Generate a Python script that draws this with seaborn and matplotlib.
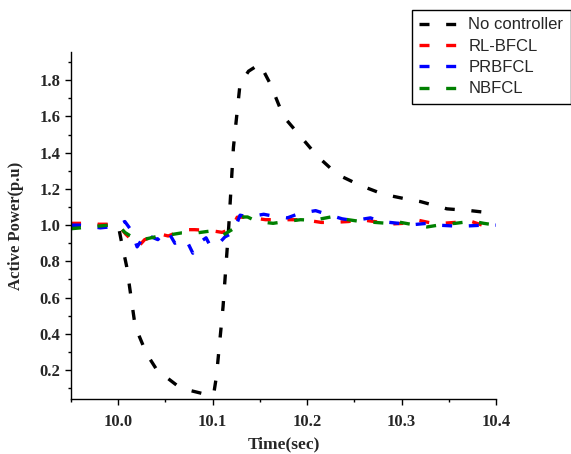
import matplotlib
matplotlib.use("Agg")
import matplotlib.pyplot as plt
import seaborn as sns
import numpy as np
import pandas as pd
from matplotlib.ticker import MultipleLocator

# ---- data ----
t_nc = [9.95, 9.97, 9.99, 10.0, 10.003, 10.009, 10.018, 10.03, 10.041, 10.066, 10.094, 10.101,
        10.104, 10.111, 10.117, 10.122, 10.129, 10.138, 10.15, 10.161, 10.175, 10.193, 10.211,
        10.232, 10.256, 10.281, 10.309, 10.32, 10.348, 10.373, 10.4]
p_nc = [1.0, 1.0, 1.0, 1.0, 0.92, 0.77, 0.44, 0.29, 0.20, 0.10, 0.064, 0.064,
        0.165, 0.55, 0.99, 1.43, 1.78, 1.85, 1.89, 1.78, 1.60, 1.49, 1.38,
        1.28, 1.22, 1.17, 1.14, 1.13, 1.09, 1.08, 1.064]

t_rl = [9.95, 9.96, 9.98, 9.99, 10.0, 10.008, 10.014, 10.021, 10.028, 10.045, 10.053, 10.069,
        10.081, 10.098, 10.11, 10.12, 10.126, 10.137, 10.156, 10.168, 10.185, 10.196, 10.215,
        10.227, 10.244, 10.257, 10.278, 10.285, 10.302, 10.315, 10.333, 10.343, 10.362, 10.373,
        10.391, 10.4]
p_rl = [1.01, 1.01, 1.005, 1.005, 1.0, 0.95, 0.92, 0.88, 0.92, 0.95, 0.94, 0.975,
        0.975, 0.97, 0.96, 0.98, 1.044, 1.044, 1.03, 1.03, 1.03, 1.03, 1.015,
        1.015, 1.02, 1.03, 1.015, 1.005, 1.01, 1.03, 1.01, 1.01, 1.017, 1.022,
        0.99, 0.99]

t_pr = [9.95, 9.96, 9.981, 9.991, 10.0, 10.007, 10.014, 10.02, 10.03, 10.035, 10.042, 10.05,
        10.055, 10.06, 10.067, 10.072, 10.079, 10.085, 10.093, 10.098, 10.105, 10.113, 10.122,
        10.129, 10.138, 10.154, 10.164, 10.179, 10.192, 10.209, 10.221, 10.237, 10.249, 10.267,
        10.278, 10.297, 10.307, 10.327, 10.338, 10.357, 10.368, 10.387, 10.4]
p_pr = [1.0, 1.0, 0.985, 0.99, 1.0, 1.02, 0.97, 0.88, 0.96, 0.935, 0.92, 0.97,
        0.945, 0.90, 0.92, 0.92, 0.845, 0.90, 0.93, 0.88, 0.89, 0.935, 0.96,
        1.055, 1.045, 1.06, 1.05, 1.04, 1.065, 1.08, 1.06, 1.035, 1.025, 1.04,
        1.02, 1.01, 1.0, 1.01, 1.0, 0.995, 0.995, 1.0, 1.0]

t_nb = [9.95, 9.96, 9.98, 9.99, 10.0, 10.007, 10.016, 10.026, 10.039, 10.053, 10.067, 10.083,
        10.097, 10.105, 10.111, 10.122, 10.13, 10.137, 10.147, 10.164, 10.177, 10.193, 10.207,
        10.225, 10.237, 10.254, 10.267, 10.285, 10.297, 10.315, 10.327, 10.345, 10.357, 10.375,
        10.387, 10.4]
p_nb = [0.98, 0.985, 0.995, 1.0, 1.0, 0.96, 0.93, 0.92, 0.935, 0.945, 0.957, 0.957,
        0.967, 0.94, 0.945, 0.98, 1.045, 1.045, 1.02, 1.01, 1.02, 1.03, 1.027,
        1.045, 1.035, 1.022, 1.017, 1.01, 1.017, 1.0, 0.99, 1.005, 1.01, 1.022,
        1.01, 1.0]

labels = ["No controller", "RL-BFCL", "PRBFCL", "NBFCL"]
colors = ["#000000", "#FF0000", "#0000FF", "#008000"]
series = [(t_nc, p_nc), (t_rl, p_rl), (t_pr, p_pr), (t_nb, p_nb)]

x_ticks = [10.0, 10.1, 10.2, 10.3, 10.4]
y_ticks = [0.2, 0.4, 0.6, 0.8, 1.0, 1.2, 1.4, 1.6, 1.8]

# ---- figure ----
sns.set_style("ticks")
plt.rcParams["font.family"] = ["Liberation Serif", "DejaVu Serif"]

fig = plt.figure(figsize=(5.71, 4.54), dpi=100)
ax = fig.add_axes([71 / 571, 1 - 399 / 454, 425 / 571, 347 / 454])

frames = []
for (t, p), lab in zip(series, labels):
    frames.append(pd.DataFrame({"t": t, "p": p, "s": lab}))
df = pd.concat(frames, ignore_index=True)

for lab, col in zip(labels, colors):
    sub = df[df["s"] == lab]
    sns.lineplot(data=sub, x="t", y="p", ax=ax, color=col, lw=2.4,
                 linestyle=(0, (3, 5)), label=lab, sort=False,
                 estimator=None)

ax.set_xlim(9.95, 10.4)
ax.set_ylim(0.04, 1.956)
ax.set_xticks(x_ticks)
ax.set_xticklabels([f"{v:.1f}" for v in x_ticks])
ax.set_yticks(y_ticks)
ax.set_yticklabels([f"{v:.1f}" for v in y_ticks])
ax.xaxis.set_minor_locator(MultipleLocator(0.05))
ax.yaxis.set_minor_locator(MultipleLocator(0.1))

for s in ["top", "right"]:
    ax.spines[s].set_visible(False)
for s in ["left", "bottom"]:
    ax.spines[s].set_linewidth(1.0)
    ax.spines[s].set_color("black")

ax.tick_params(which="major", direction="out", length=4.5, width=1.0, color="black")
ax.tick_params(which="minor", direction="out", length=2.5, width=1.0, color="black")
ax.tick_params(axis="x", which="major", pad=6)
ax.tick_params(axis="y", which="major", pad=3)
for lbl in ax.get_xticklabels() + ax.get_yticklabels():
    lbl.set_fontweight("bold")
    lbl.set_fontsize(12)

ax.set_xlabel("Time(sec)", fontsize=12.5, fontweight="bold", labelpad=5)
ax.set_ylabel("Active Power(p.u)", fontsize=12, fontweight="bold", labelpad=11)

ax.legend_.remove() if ax.legend_ else None
handles, lbls = ax.get_legend_handles_labels()
leg = fig.legend(handles, lbls, loc="upper left",
                 bbox_to_anchor=(412 / 571, 1 - 10 / 454),
                 prop={"family": "Liberation Sans", "size": 12},
                 frameon=True, fancybox=False, framealpha=1,
                 edgecolor="black", handlelength=2.4, handletextpad=0.55,
                 labelspacing=0.38, borderpad=0.44, borderaxespad=0)
leg.get_frame().set_linewidth(1.0)

fig.savefig("out.png", dpi=100)
